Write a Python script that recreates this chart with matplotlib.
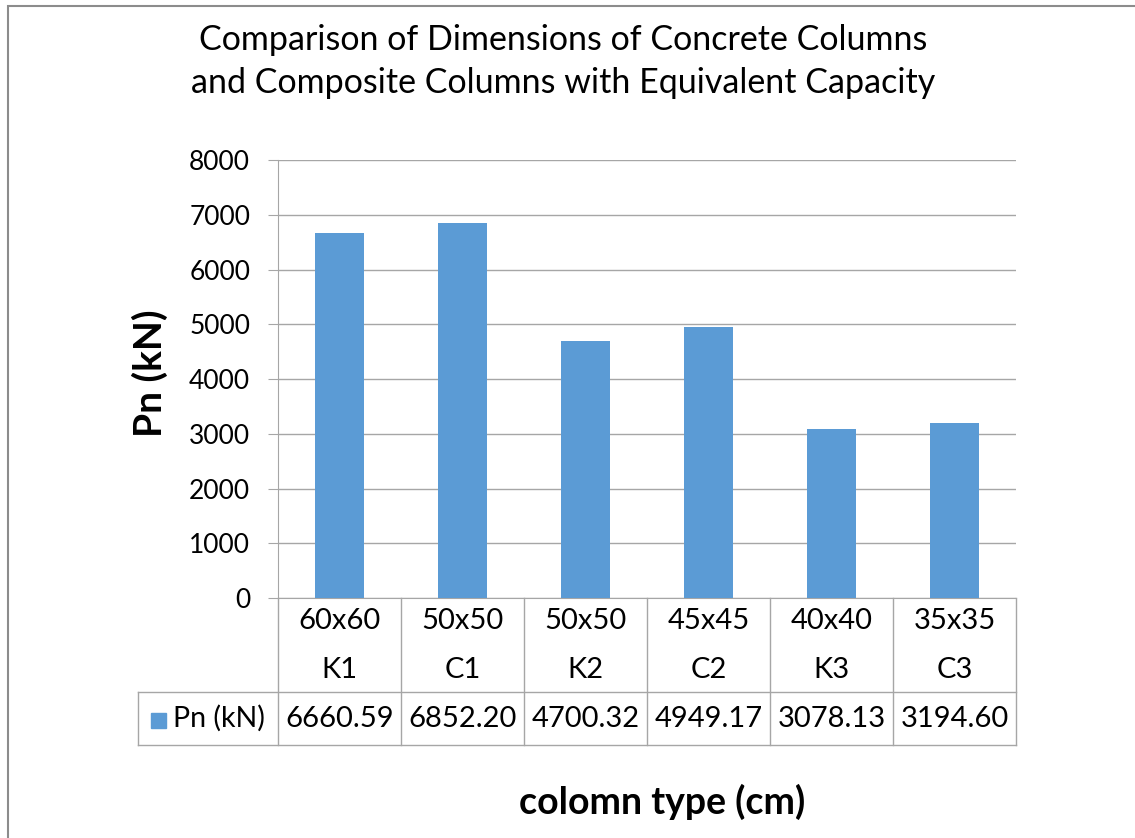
import matplotlib.pyplot as plt
from matplotlib.patches import Rectangle

plt.rcParams['font.family'] = ['Lato', 'DejaVu Sans']

# data
sizes = ['60x60', '50x50', '50x50', '45x45', '40x40', '35x35']
codes = ['K1', 'C1', 'K2', 'C2', 'K3', 'C3']
pn = [6660.59, 6852.20, 4700.32, 4949.17, 3078.13, 3194.60]
series_name = 'Pn (kN)'

bar_color = '#5B9BD5'
line_color = '#A6A6A6'
W, H = 1135, 838

fig = plt.figure(figsize=(W / 100, H / 100), dpi=100)
ax = fig.add_axes([278 / W, 1 - 598 / H, (1016 - 278) / W, (598 - 160) / H])

x = list(range(len(pn)))
ax.bar(x, pn, width=0.4, color=bar_color, zorder=3)
ax.set_xlim(-0.5, len(pn) - 0.5)
ax.set_ylim(0, 8000)
ax.set_yticks(range(0, 8001, 1000))
ax.tick_params(axis='y', labelsize=19, length=7, color=line_color, pad=13)
ax.tick_params(axis='x', bottom=False, labelbottom=False)
ax.grid(axis='y', color=line_color, linewidth=1, zorder=0)
for s in ['top', 'right']:
    ax.spines[s].set_visible(False)
for s in ['left', 'bottom']:
    ax.spines[s].set_color(line_color)

# data table under the axis
tr = ax.get_xaxis_transform()
ph = 598 - 160
row1 = -(692 - 598) / ph
row2 = -(745 - 598) / ph
leg_left = -0.5 - (278 - 138) / 123.0
for i in range(len(pn) + 1):
    ax.plot([i - 0.5, i - 0.5], [0, row2], transform=tr, color=line_color,
            lw=1, clip_on=False)
for yy in [row1, row2]:
    ax.plot([leg_left, len(pn) - 0.5], [yy, yy], transform=tr,
            color=line_color, lw=1, clip_on=False)
ax.plot([leg_left, leg_left], [row1, row2], transform=tr, color=line_color,
        lw=1, clip_on=False)

for i in x:
    ax.text(i, -(621 - 598) / ph, sizes[i], transform=tr, ha='center',
            va='center', fontsize=21)
    ax.text(i, -(670 - 598) / ph, codes[i], transform=tr, ha='center',
            va='center', fontsize=21)
    ax.text(i, (row1 + row2) / 2, f'{pn[i]:.2f}', transform=tr, ha='center',
            va='center', fontsize=21)

# legend key inside the table
fig.patches.append(Rectangle((151 / W, 1 - 728 / H), 15 / W, 15 / H,
                             transform=fig.transFigure, color=bar_color))
fig.text(173 / W, 1 - 718 / H, series_name, ha='left', va='center', fontsize=20.5)

# titles and labels
fig.text(563 / W, 1 - 40 / H, 'Comparison of Dimensions of Concrete Columns',
         ha='center', va='center', fontsize=24.5)
fig.text(563 / W, 1 - 83 / H, 'and Composite Columns with Equivalent Capacity',
         ha='center', va='center', fontsize=24.5)
fig.text(150 / W, 1 - 373 / H, 'Pn (kN)', rotation=90, ha='center',
         va='center', fontsize=28, fontweight='bold')
fig.text(662 / W, 1 - 802 / H, 'colomn type (cm)', ha='center', va='center',
         fontsize=27, fontweight='bold')

# chart frame (cut off at right and bottom)
fig.patches.append(Rectangle((8 / W, -0.2), 1.5, 1.2 - 6 / H,
                             transform=fig.transFigure, fill=False,
                             edgecolor='#8C8C8C', lw=1.5))

fig.savefig('out.png', dpi=100)
